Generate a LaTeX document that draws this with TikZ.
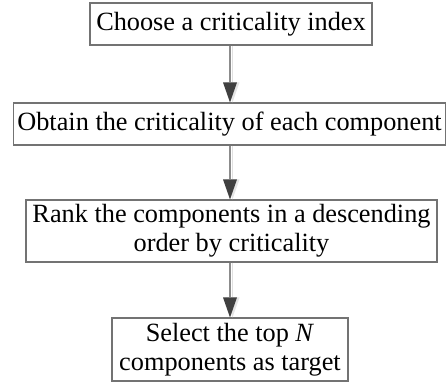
\documentclass[tikz,border=0pt]{standalone}
\usepackage{fontspec}
\setmainfont{Liberation Serif}
\usetikzlibrary{arrows.meta}
\begin{document}
\begin{tikzpicture}[x=1pt,y=1pt,
  stepbox/.style={draw=black!55, line width=1.1pt, fill=white, inner sep=0pt,
    align=center, font=\fontsize{26.3}{29}\selectfont, text=black},
  flow/.style={draw=black!45, line width=1.8pt,
    -{Triangle[length=20pt,width=14pt,color=black!75,fill=black!75,line width=0pt]}},
  flowshade/.style={draw=black!12, line width=1.8pt,
    -{Triangle[length=20pt,width=14pt,color=black!10,fill=black!10,line width=0pt]}}
]
\useasboundingbox (0,0) rectangle (446,385);

\node[stepbox, minimum width=282pt, minimum height=42pt] (choose) at (231,361)
  {Choose a criticality index};
\node[stepbox, minimum width=432pt, minimum height=42pt] (obtain) at (229.5,261)
  {Obtain the criticality of each component};
\node[stepbox, minimum width=411pt, minimum height=62pt] (rank) at (231.5,154)
  {Rank the components in a descending\\order by criticality};
\node[stepbox, minimum width=236pt, minimum height=63pt] (select) at (230,35.5)
  {Select the top \textit{N}\\components as target};

% faint shading behind each connector
\begin{scope}[transform canvas={xshift=2.5pt}]
  \draw[flowshade] (choose.south -| select.north) -- (obtain.north -| select.north);
  \draw[flowshade] (obtain.south -| select.north) -- (rank.north -| select.north);
  \draw[flowshade] (rank.south -| select.north) -- (select.north);
\end{scope}

% connectors between the steps
\draw[flow] (choose.south -| select.north) -- (obtain.north -| select.north);
\draw[flow] (obtain.south -| select.north) -- (rank.north -| select.north);
\draw[flow] (rank.south -| select.north) -- (select.north);
\end{tikzpicture}
\end{document}
